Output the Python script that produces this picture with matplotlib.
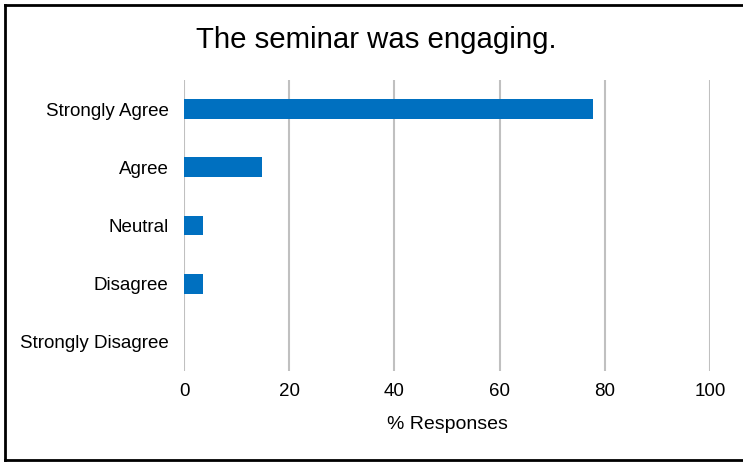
import matplotlib.pyplot as plt
from matplotlib.lines import Line2D

plt.rcParams["font.family"] = ["Liberation Sans", "DejaVu Sans"]

# Veri
kategoriler = ["Strongly Agree", "Agree", "Neutral", "Disagree", "Strongly Disagree"]
yuzdeler = [77.8, 14.8, 3.7, 3.7, 0.0]
x_tikler = [0, 20, 40, 60, 80, 100]

fig = plt.figure(figsize=(7.43, 4.62), dpi=100)
ax = fig.add_axes([184 / 743, 1 - 371 / 462, 526 / 743, (371 - 80) / 462])

y = list(range(len(kategoriler)))
ax.barh(y, yuzdeler, height=0.34, color="#0070C0", zorder=3)
ax.set_yticks(y)
ax.set_yticklabels(kategoriler, fontsize=13.5)
ax.set_ylim(len(kategoriler) - 0.5, -0.5)

ax.set_xlim(0, 100)
ax.set_xticks(x_tikler)
ax.set_xticklabels([str(t) for t in x_tikler], fontsize=13.5)
ax.set_xlabel("% Responses", fontsize=14, labelpad=11)

ax.grid(True, axis="x", color="#C0C0C0", linewidth=1.5, zorder=0)
ax.tick_params(axis="both", length=0)
ax.tick_params(axis="y", pad=11)
ax.tick_params(axis="x", pad=9)
for s in ax.spines.values():
    s.set_visible(False)

fig.text(376 / 743, 1 - 40 / 462, "The seminar was engaging.", fontsize=21.2,
         ha="center", va="center")

# Çerçeve (sağ kenar görünmüyor)
x0, y0, y1 = 5 / 743, 1 - 460 / 462, 1 - 5 / 462
for xs, ys in [([x0, 1.01], [y1, y1]), ([x0, x0], [y0, y1]), ([x0, 1.01], [y0, y0])]:
    fig.add_artist(Line2D(xs, ys, transform=fig.transFigure, color="black", linewidth=2))

plt.savefig("out.png", dpi=100)
